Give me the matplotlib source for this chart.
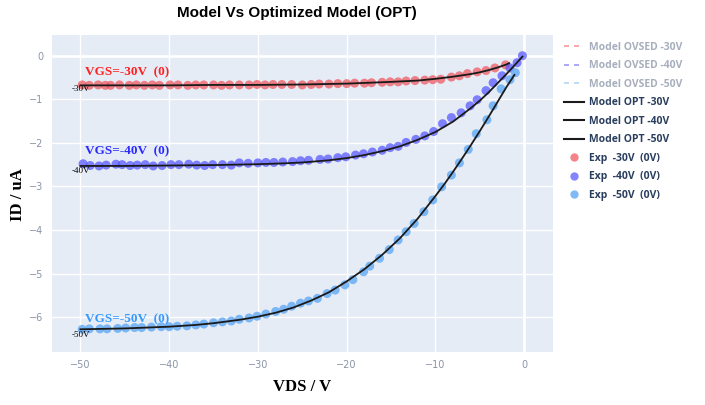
import matplotlib.pyplot as plt
from matplotlib.lines import Line2D

# experimental points, VGS = -30V
vds_30 = [-49.8, -49.0, -48.0, -47.2, -46.6, -45.6, -44.5, -43.7, -42.8, -41.9,
          -41.1, -39.9, -39.0, -37.9, -37.0, -36.1, -35.0, -34.1, -33.2, -32.1,
          -31.0, -30.1, -29.2, -28.3, -27.3, -26.2, -25.0, -24.0, -23.1, -22.0,
          -21.0, -20.0, -19.1, -18.0, -17.2, -16.0, -15.1, -14.2, -13.3, -12.3,
          -11.2, -10.3, -9.4, -8.2, -7.3, -6.4, -5.3, -4.3, -3.3, -2.1]
id_30 = [-0.67, -0.68, -0.67, -0.68, -0.68, -0.67, -0.68, -0.67, -0.68, -0.67,
         -0.68, -0.67, -0.67, -0.68, -0.67, -0.67, -0.67, -0.68, -0.67, -0.67,
         -0.67, -0.66, -0.67, -0.66, -0.66, -0.66, -0.67, -0.66, -0.65, -0.65,
         -0.64, -0.64, -0.63, -0.63, -0.62, -0.61, -0.60, -0.60, -0.58, -0.57,
         -0.56, -0.55, -0.54, -0.49, -0.46, -0.41, -0.37, -0.34, -0.28, -0.21]

# experimental points, VGS = -40V
vds_40 = [-49.7, -48.9, -47.9, -47.1, -46.0, -45.3, -44.4, -43.6, -42.7, -41.8,
          -40.8, -39.8, -38.9, -37.8, -36.9, -36.0, -35.1, -34.0, -33.0, -32.1,
          -31.1, -30.0, -29.1, -28.2, -27.2, -26.1, -25.2, -24.3, -23.0, -22.1,
          -21.0, -20.1, -19.0, -18.1, -17.1, -16.0, -15.1, -14.2, -13.3, -12.2,
          -11.2, -10.2, -9.2, -8.2, -7.1, -6.1, -5.3, -4.3, -3.5, -2.5,
          -1.6, -0.8, -0.2]
id_40 = [-2.48, -2.52, -2.53, -2.51, -2.49, -2.50, -2.52, -2.51, -2.50, -2.53,
         -2.52, -2.50, -2.50, -2.49, -2.51, -2.52, -2.50, -2.50, -2.51, -2.46,
         -2.47, -2.46, -2.45, -2.45, -2.44, -2.43, -2.41, -2.40, -2.38, -2.37,
         -2.34, -2.32, -2.28, -2.25, -2.21, -2.17, -2.11, -2.08, -1.99, -1.92,
         -1.84, -1.74, -1.56, -1.42, -1.31, -1.15, -1.01, -0.80, -0.62, -0.46,
         -0.28, -0.16, 0.00]

# experimental points, VGS = -50V
vds_50 = [-49.8, -49.0, -47.8, -47.0, -45.8, -44.9, -43.9, -43.1, -42.0, -40.9,
          -40.0, -39.1, -38.0, -37.0, -36.1, -35.0, -34.0, -33.0, -32.1, -31.0,
          -30.1, -29.1, -28.0, -27.1, -26.2, -25.2, -24.3, -23.3, -22.2, -21.3,
          -20.2, -19.3, -18.1, -17.4, -16.3, -15.2, -14.2, -13.3, -12.4, -11.3,
          -10.3, -9.3, -8.2, -7.3, -6.3, -5.4, -4.2, -3.5, -2.6, -1.6,
          -1.0]
id_50 = [-6.28, -6.27, -6.27, -6.27, -6.26, -6.25, -6.24, -6.24, -6.23, -6.22,
         -6.22, -6.21, -6.20, -6.18, -6.16, -6.13, -6.11, -6.09, -6.05, -6.02,
         -5.98, -5.93, -5.87, -5.82, -5.75, -5.68, -5.63, -5.57, -5.46, -5.38,
         -5.26, -5.14, -4.96, -4.83, -4.65, -4.45, -4.23, -4.04, -3.85, -3.58,
         -3.31, -3.01, -2.74, -2.46, -2.15, -1.79, -1.47, -1.15, -0.76, -0.55,
         -0.39]

# optimized model curves
vds_opt_30 = [-50, -45, -40, -35, -30, -25, -20, -15, -12, -10, -8, -6, -5, -4, -3, -2, -1.7]
id_opt_30 = [-0.68, -0.68, -0.68, -0.67, -0.67, -0.66, -0.64, -0.60, -0.57, -0.53,
             -0.48, -0.42, -0.38, -0.33, -0.27, -0.20, -0.17]

vds_opt_40 = [-50, -45, -40, -35, -30, -27, -25, -22, -20, -18, -16, -14, -12, -10,
              -8, -6, -5, -4, -3, -2, -1, -0.2]
id_opt_40 = [-2.53, -2.53, -2.52, -2.51, -2.49, -2.47, -2.45, -2.40, -2.35, -2.28,
             -2.19, -2.08, -1.93, -1.75, -1.51, -1.20, -1.03, -0.84, -0.63, -0.42,
             -0.20, -0.02]

vds_opt_50 = [-50, -45, -40, -37, -35, -32, -30, -28, -26, -24, -22, -20, -18, -16,
              -14, -12, -10, -9, -8, -7, -6, -5, -4, -3, -2, -1.1]
id_opt_50 = [-6.28, -6.26, -6.22, -6.18, -6.14, -6.06, -5.99, -5.90, -5.78, -5.62,
             -5.43, -5.18, -4.90, -4.57, -4.19, -3.74, -3.22, -2.95, -2.66, -2.36,
             -2.05, -1.73, -1.40, -1.06, -0.72, -0.44]

bg = '#E5ECF6'
tick_col = '#8a94a8'
legend_col = '#2a3f5f'
red_c, blue_c, lblue_c = '#f0555c', '#5555ff', '#6aaef5'

fig = plt.figure(figsize=(7.05, 4.05), dpi=100)
ax = fig.add_axes([0.0738, 0.131, 0.71, 0.783])
ax.set_facecolor(bg)

# experimental data
ax.scatter(vds_30, id_30, s=42, color=red_c, alpha=0.72, edgecolors='none', zorder=3)
ax.scatter(vds_40, id_40, s=42, color=blue_c, alpha=0.72, edgecolors='none', zorder=3)
ax.scatter(vds_50, id_50, s=42, color=lblue_c, alpha=0.85, edgecolors='none', zorder=3)

# optimized model
for vx, iy in [(vds_opt_30, id_opt_30), (vds_opt_40, id_opt_40), (vds_opt_50, id_opt_50)]:
    ax.plot(vx, iy, color='#1a1a1a', lw=1.3, zorder=4)

ax.set_xlim(-53.2, 3.2)
ax.set_ylim(-6.8, 0.48)
ax.set_xticks([-50, -40, -30, -20, -10, 0])
ax.set_yticks([0, -1, -2, -3, -4, -5, -6])
ax.set_xticklabels(['−50', '−40', '−30', '−20', '−10', '0'])
ax.set_yticklabels(['0', '−1', '−2', '−3', '−4', '−5', '−6'])
ax.grid(True, color='white', lw=1)
ax.axvline(0, color='white', lw=1.8, zorder=1)
ax.axhline(0, color='white', lw=1.8, zorder=1)
ax.set_axisbelow(True)
for s in ax.spines.values():
    s.set_visible(False)
ax.tick_params(length=0, labelsize=7, colors=tick_col, pad=6)

# curve labels
serif = 'Liberation Serif'
ax.text(-49.5, -0.45, 'VGS=-30V  (0)', color='#ff2020', fontsize=9.5, fontweight='bold', family=serif)
ax.text(-49.5, -2.27, 'VGS=-40V  (0)', color='#2a2aff', fontsize=9.5, fontweight='bold', family=serif)
ax.text(-49.5, -6.12, 'VGS=-50V  (0)', color='#3399ff', fontsize=9.5, fontweight='bold', family=serif)
ax.text(-51.0, -0.82, '-30V', color='black', fontsize=6.5, family=serif)
ax.text(-51.0, -2.7, '-40V', color='black', fontsize=6.5, family=serif)
ax.text(-51.0, -6.45, '-50V', color='black', fontsize=6.5, family=serif)

fig.text(0.428, 0.044, 'VDS / V', ha='center', va='center',
         fontsize=12, fontweight='bold', family=serif)
fig.text(0.026, 0.52, 'ID / uA', ha='center', va='center', rotation=90,
         fontsize=12, fontweight='bold', family=serif)
fig.text(0.421, 0.985, 'Model Vs Optimized Model (OPT)', ha='center', va='top',
         fontsize=11, fontweight='bold', family='Liberation Sans')

# legend
handles = [
    Line2D([], [], color='#f59a9d', ls=(0, (3, 3)), lw=1.2),
    Line2D([], [], color='#9a9af5', ls=(0, (3, 3)), lw=1.2),
    Line2D([], [], color='#b5d6f7', ls=(0, (3, 3)), lw=1.2),
    Line2D([], [], color='#1a1a1a', lw=1.5),
    Line2D([], [], color='#1a1a1a', lw=1.5),
    Line2D([], [], color='#1a1a1a', lw=1.5),
    Line2D([], [], ls='none', marker='o', ms=6, color=red_c, alpha=0.72, mec='none'),
    Line2D([], [], ls='none', marker='o', ms=6, color=blue_c, alpha=0.72, mec='none'),
    Line2D([], [], ls='none', marker='o', ms=6, color=lblue_c, alpha=0.85, mec='none'),
]
labels = ['Model OVSED -30V', 'Model OVSED -40V', 'Model OVSED -50V',
          'Model OPT -30V', 'Model OPT -40V', 'Model OPT -50V',
          'Exp  -30V  (0V)', 'Exp  -40V  (0V)', 'Exp  -50V  (0V)']
leg = fig.legend(handles, labels, loc='upper left', bbox_to_anchor=(0.786, 0.92),
                 frameon=False, handlelength=2.0, handletextpad=0.4,
                 labelspacing=0.72, prop={'family': 'Open Sans', 'weight': 'bold', 'size': 7.5})
for i, t in enumerate(leg.get_texts()):
    t.set_color('#a7afbd' if i < 3 else legend_col)

fig.savefig('out.png', dpi=100)
